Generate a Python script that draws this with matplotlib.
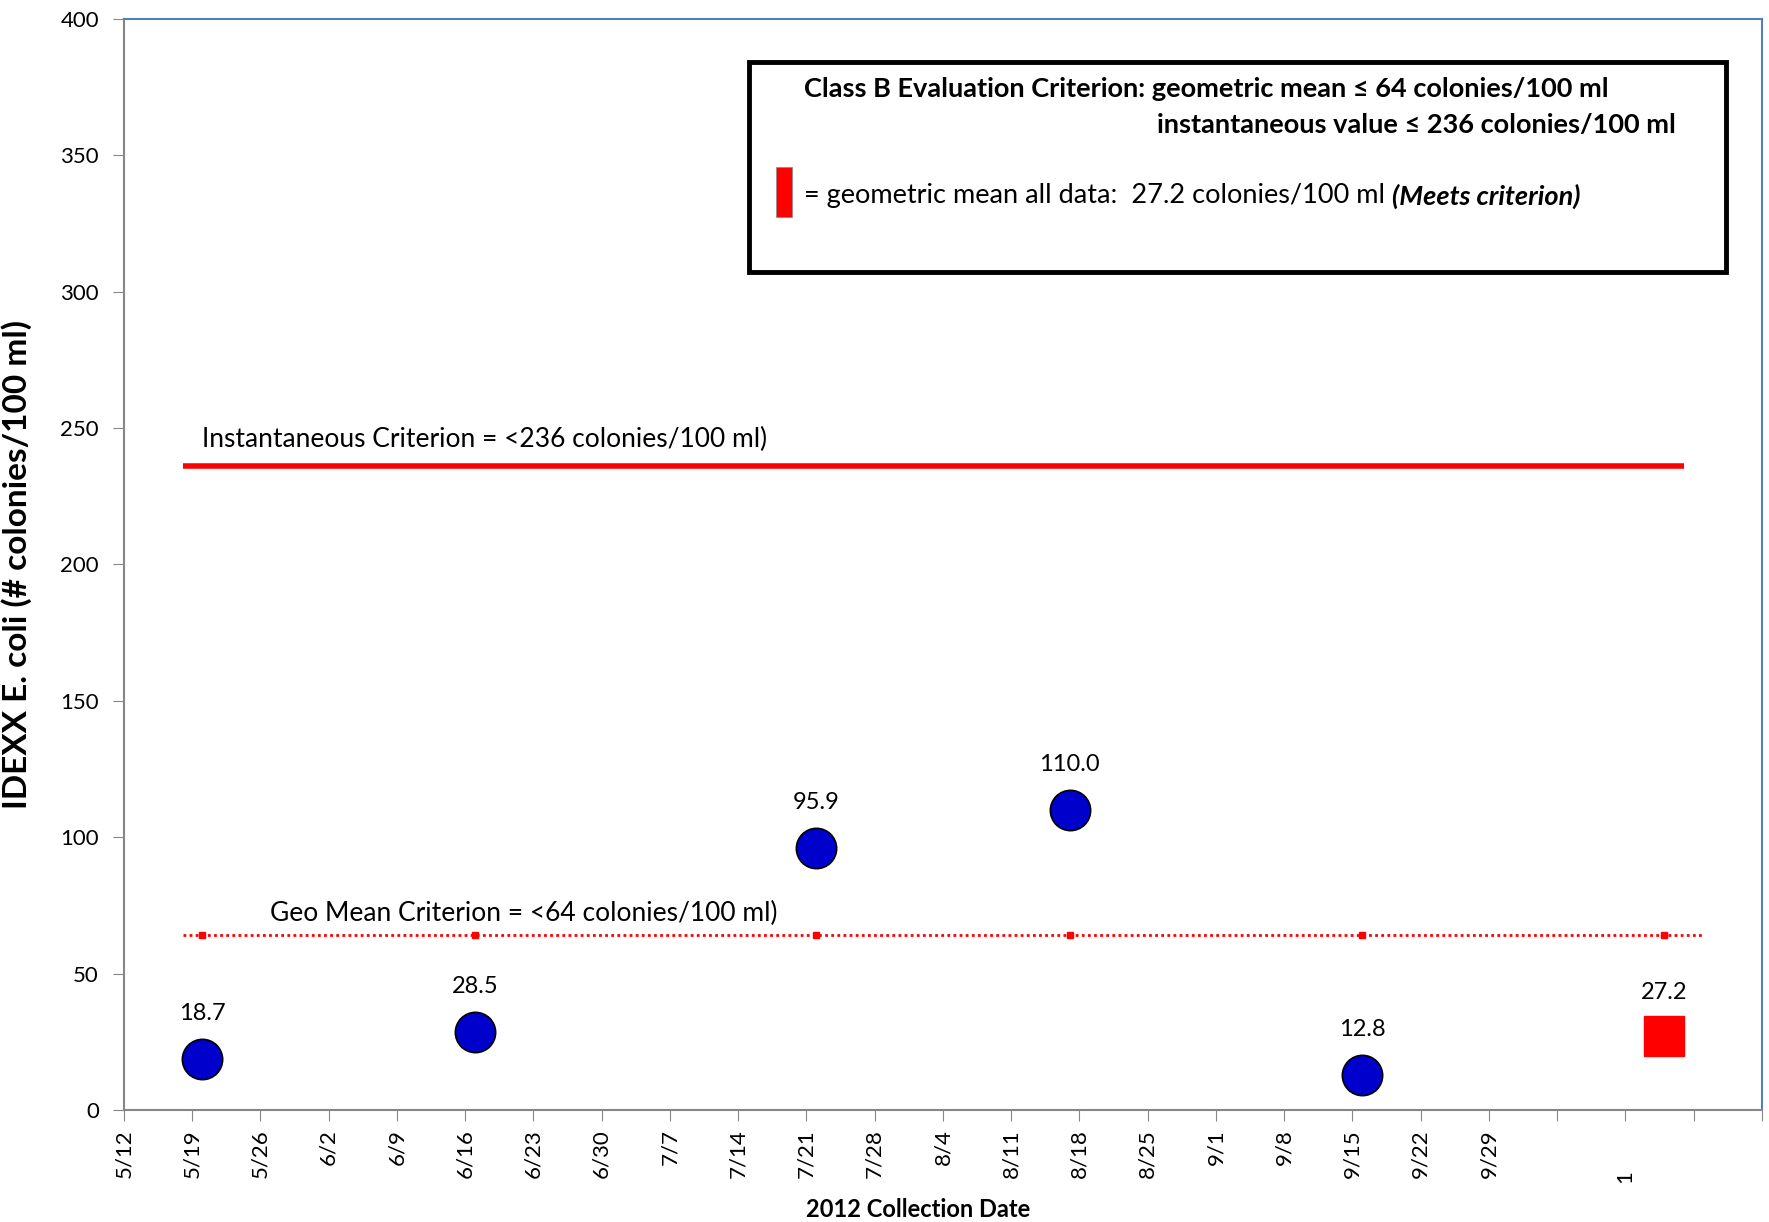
import numpy as np
import matplotlib
matplotlib.use("Agg")
import matplotlib.pyplot as plt
import matplotlib.dates as mdates
from matplotlib.patches import Rectangle

plt.rcParams['font.family'] = ['Lato', 'DejaVu Sans']

# sample data
sample_dates = np.array(['2012-05-20', '2012-06-17', '2012-07-22', '2012-08-17', '2012-09-16'],
                        dtype='datetime64[D]')
ecoli_values = [18.7, 28.5, 95.9, 110.0, 12.8]

geomean_date = np.datetime64('2012-10-17')
geomean_value = 27.2

inst_criterion = 236
inst_line_dates = np.array(['2012-05-18', '2012-10-19'], dtype='datetime64[D]')
geo_criterion = 64
geo_line_dates = np.array(['2012-05-18', '2012-10-21'], dtype='datetime64[D]')

axis_start = np.datetime64('2012-05-12')
axis_end = np.datetime64('2012-10-27')
last_label = np.datetime64('2012-09-29')

fig = plt.figure(figsize=(17.69, 12.22), dpi=100)
ax = fig.add_axes([0.0701, 0.0917, 0.9259, 0.8928])

# criterion lines
ax.plot(mdates.date2num(inst_line_dates), [inst_criterion] * 2, color='#FF0000', lw=4, solid_capstyle='butt')
ax.plot(mdates.date2num(geo_line_dates), [geo_criterion] * 2, color='#FF0000', lw=2,
        linestyle=(0, (1, 1.2)))
geo_marker_dates = np.append(sample_dates, geomean_date)
ax.plot(mdates.date2num(geo_marker_dates), [geo_criterion] * len(geo_marker_dates), ls='none',
        marker='s', ms=4, color='#FF0000')

# samples
xs = mdates.date2num(sample_dates)
ax.plot(xs, ecoli_values, ls='none', marker='o', ms=29, markerfacecolor='#0000CC',
        markeredgecolor='black', markeredgewidth=1.2, zorder=5)
for x, v in zip(xs, ecoli_values):
    ax.annotate(f'{v:.1f}', xy=(x, v), xytext=(0, 33), textcoords='offset points',
                ha='center', va='center', fontsize=17)

gx = mdates.date2num(geomean_date)
ax.plot([gx], [geomean_value], ls='none', marker='s', ms=29, color='#FF0000', zorder=5)
ax.annotate(f'{geomean_value:.1f}', xy=(gx, geomean_value), xytext=(0, 31), textcoords='offset points',
            ha='center', va='center', fontsize=17)

ax.text(mdates.date2num(np.datetime64('2012-05-20')), 246, 'Instantaneous Criterion = <236 colonies/100 ml)',
        fontsize=19, ha='left', va='center')
ax.text(mdates.date2num(np.datetime64('2012-05-27')), 72, 'Geo Mean Criterion = <64 colonies/100 ml)',
        fontsize=19, ha='left', va='center')

# axes
ax.set_ylim(0, 400)
ax.set_yticks(np.arange(0, 401, 50))
ax.set_xlim(mdates.date2num(axis_start), mdates.date2num(axis_end))
ticks = np.arange(axis_start, axis_end + 1, 7)
ax.set_xticks(mdates.date2num(ticks))
labels = []
for t in ticks.astype('datetime64[D]').tolist():
    labels.append(f'{t.month}/{t.day}' if np.datetime64(t) <= last_label else '')
ax.set_xticklabels(labels, rotation=90, fontsize=16)
ax.tick_params(axis='y', labelsize=16, length=8, color='#868686', pad=10)
ax.tick_params(axis='x', length=8, color='#868686', pad=6)
ax.text(mdates.date2num(np.datetime64('2012-10-13')), -22, '1', rotation=90, fontsize=16,
        ha='center', va='top', clip_on=False)

for side in ['left', 'bottom']:
    ax.spines[side].set_color('#868686')
    ax.spines[side].set_linewidth(1.5)
for side in ['top', 'right']:
    ax.spines[side].set_color('#4F81BD')
    ax.spines[side].set_linewidth(1.5)

ax.set_ylabel('IDEXX E. coli (# colonies/100 ml)', fontsize=24, fontweight='bold')
ax.yaxis.set_label_coords(-0.056, 0.5)
ax.set_xlabel('2012 Collection Date', fontsize=17, fontweight='bold')
ax.xaxis.set_label_coords(0.485, -0.081)

# criterion box
ax.add_patch(Rectangle((0.3816, 0.7681), 0.5964, 0.1925, transform=ax.transAxes,
                       facecolor='white', edgecolor='black', lw=3.5, zorder=6))
ax.text(0.4151, 0.9359, 'Class B Evaluation Criterion: geometric mean ≤ 64 colonies/100 ml',
        transform=ax.transAxes, fontsize=19.5, fontweight='bold', ha='left', va='center', zorder=7)
ax.text(0.9475, 0.9028, 'instantaneous value ≤ 236 colonies/100 ml',
        transform=ax.transAxes, fontsize=19.5, fontweight='bold', ha='right', va='center', zorder=7)
ax.add_patch(Rectangle((0.3980, 0.8185), 0.0098, 0.0458, transform=ax.transAxes,
                       facecolor='#FF0000', edgecolor='#888888', lw=0.5, zorder=7))
t3 = ax.text(0.4151, 0.8378, '= geometric mean all data:  27.2 colonies/100 ml ',
             transform=ax.transAxes, fontsize=19.5, ha='left', va='center', zorder=7)
ax.annotate('(Meets criterion)', xy=(1, 0.5), xycoords=t3, ha='left', va='center',
            fontsize=19.5, fontweight='bold', fontstyle='italic', zorder=7)

fig.savefig('out.png', dpi=100)
